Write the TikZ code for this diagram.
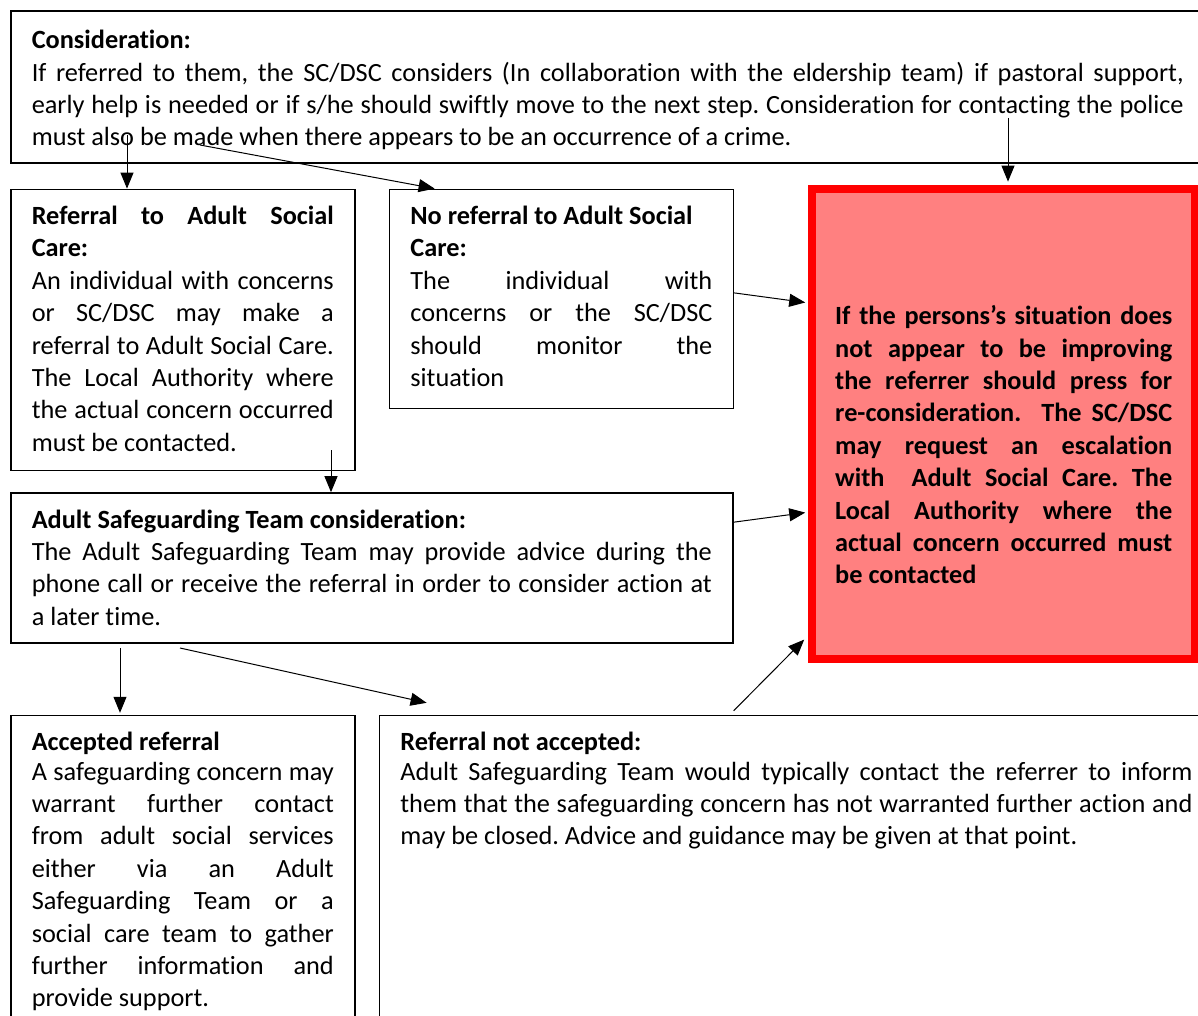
\documentclass[tikz,border=0pt]{standalone}
\usepackage{fontspec}
\setmainfont{Carlito}[Ligatures=NoCommon]
\usetikzlibrary{arrows.meta,positioning}
\definecolor{alertfill}{RGB}{255,128,128}
\tolerance=9999
\hyphenpenalty=10000
\frenchspacing

\begin{document}
\begin{tikzpicture}
  [x=1pt,y=-1pt,
   every node/.style={font=\fontsize{26.3}{32.4}\selectfont},
   note/.style={draw,line width=1.6pt,align=justify,anchor=north west,
                inner xsep=21pt,inner ysep=16pt,text height=19pt},
   warn/.style={draw=red,fill=alertfill,line width=8pt,align=justify,anchor=north west,
                inner xsep=23pt,inner ysep=16pt,font=\fontsize{26.3}{32.4}\selectfont\bfseries},
   flow/.style={-{Triangle[length=16pt,width=13pt]},line width=1pt}]

  \useasboundingbox (0,0) rectangle (1198,1016);

  \node[note,text width=1152pt,text height=22pt,text depth=98pt] (cons) at (10,10)
    {\textbf{Consideration:}\\
     If referred to them, the SC/DSC considers (In collaboration with the eldership team) if pastoral support,\linebreak
     early help is needed or if s/he should swiftly move to the next step. Consideration for contacting the police\linebreak
     must also be made when there appears to be an occurrence of a crime.};

  \node[note,text width=302pt,text depth=230pt] (refasc) [below=25pt of cons.south west,anchor=north west]
    {\textbf{Referral to Adult Social\linebreak Care:}\\
     An individual with concerns\linebreak
     or SC/DSC may make a\linebreak
     referral to Adult Social Care.\linebreak
     The Local Authority where\linebreak
     the actual concern occurred\linebreak
     must be contacted.};

  \node[note,text width=302pt,text depth=168pt] (noref) [right=33pt of refasc.north east,anchor=north west]
    {\textbf{No referral to Adult Social\\Care:}\\
     The individual with\linebreak
     concerns or the SC/DSC\linebreak
     should monitor the\linebreak
     situation};

  \node[warn,text width=337pt,text height=120pt,text depth=318pt] (red) [right=74pt of noref.north east,anchor=north west,yshift=4pt]
    {If the persons’s situation does\linebreak
     not appear to be improving\linebreak
     the referrer should press for\linebreak
     re-consideration.\ \ The SC/DSC\linebreak
     may request an escalation\linebreak
     with\ \ Adult Social Care. The\linebreak
     Local Authority where the\linebreak
     actual concern occurred must\linebreak
     be contacted};

  \node[note,text width=680pt,text depth=99pt] (asc) [below=21pt of refasc.south west,anchor=north west]
    {\textbf{Adult Safeguarding Team consideration:}\\
     The Adult Safeguarding Team may provide advice during the\linebreak
     phone call or receive the referral in order to consider action at\linebreak
     a later time.};

  \node[note,text width=302pt,text depth=282pt] (accepted) [below=71pt of asc.south west,anchor=north west]
    {\textbf{Accepted referral}\\[-3pt]
     A safeguarding concern may\linebreak
     warrant further contact\linebreak
     from adult social services\linebreak
     either via an Adult\linebreak
     Safeguarding Team or a\linebreak
     social care team to gather\linebreak
     further information and\linebreak
     provide support.};

  \node[note,text width=792pt,text depth=282pt] (notacc) [right=23pt of accepted.north east,anchor=north west]
    {\textbf{Referral not accepted:}\\[-3pt]
     Adult Safeguarding Team would typically contact the referrer to inform\linebreak
     them that the safeguarding concern has not warranted further action and\linebreak
     may be closed. Advice and guidance may be given at that point.};

  \coordinate (a1) at (127,135);
  \coordinate (a2) at (200,145);
  \coordinate (a3) at (1008,118);
  \coordinate (a5) at (331,450);
  \coordinate (a7) at (120,648);
  \coordinate (a8) at (180,648);

  \draw[flow] (a1) -- (a1 |- refasc.north);
  \draw[flow] (a2) -- ([xshift=46pt]noref.north west);
  \draw[flow,shorten >=3pt] (a3) -- (a3 |- red.north);
  \draw[flow,shorten >=3pt] ([yshift=6pt]noref.east) -- ([yshift=-4pt]noref.east -| red.west);
  \draw[flow] (a5) -- (a5 |- asc.north);
  \draw[flow,shorten >=3pt] ([yshift=-30pt]asc.north east) -- ([yshift=-20pt]asc.north east -| red.west);
  \draw[flow,shorten >=2pt] (a7) -- (a7 |- accepted.north);
  \draw[flow] (a8) -- ([xshift=48pt,yshift=12pt]notacc.north west);
  \draw[flow] ([xshift=355pt,yshift=4pt]notacc.north west) -- ([xshift=-4pt,yshift=23pt]red.south west);
\end{tikzpicture}
\end{document}
